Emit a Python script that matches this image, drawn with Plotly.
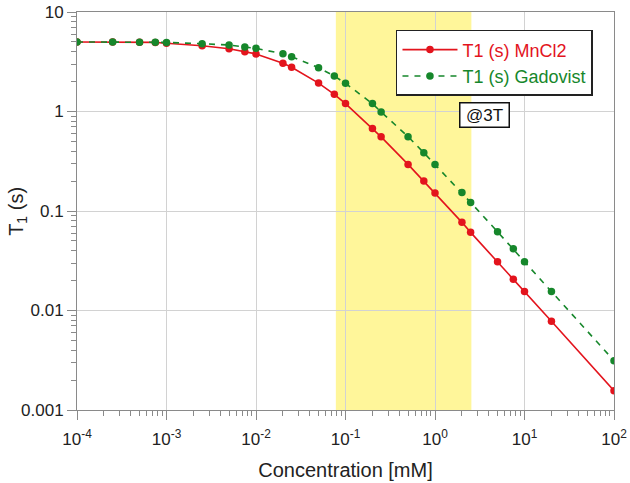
import plotly.graph_objects as go

# Data
conc_mM = [1e-4, 2.5e-4, 5e-4, 7.5e-4, 1e-3, 2.5e-3, 5e-3, 7.5e-3, 1e-2, 2e-2, 2.5e-2,
           5e-2, 7.5e-2, 0.1, 0.2, 0.25, 0.5, 0.75, 1, 2, 2.5, 5, 7.5, 10, 20, 100]
t1_mncl2 = [5.0, 5.0, 4.98, 4.95, 4.85, 4.58, 4.28, 3.99, 3.79, 3.05, 2.78,
            1.93, 1.49, 1.20, 0.675, 0.556, 0.294, 0.200, 0.152, 0.0769, 0.061,
            0.0309, 0.0206, 0.0155, 0.0078, 0.00156]
t1_gadovist = [5.0, 5.0, 4.98, 4.98, 4.95, 4.8, 4.66, 4.45, 4.31, 3.81, 3.56,
               2.75, 2.27, 1.92, 1.2, 0.99, 0.559, 0.385, 0.294, 0.153, 0.122,
               0.0618, 0.0418, 0.0309, 0.0155, 0.00313]
band_range = [0.078, 2.55]

x_tickvals = [1e-4, 1e-3, 1e-2, 1e-1, 1e0, 1e1, 1e2]
x_ticktext = ["10<sup>-4</sup>", "10<sup>-3</sup>", "10<sup>-2</sup>", "10<sup>-1</sup>",
              "10<sup>0</sup>", "10<sup>1</sup>", "10<sup>2</sup>"]
y_tickvals = [0.001, 0.01, 0.1, 1, 10]
y_ticktext = ["0.001", "0.01", "0.1", "1", "10"]

RED = "#e3141d"
GREEN = "#16872b"
FONT = "Liberation Sans, Arial, sans-serif"

def minor_vals(lo, hi):
    vals = []
    for e in range(lo, hi):
        for m in range(2, 10):
            vals.append(m * 10 ** e)
    return vals

fig = go.Figure()
fig.add_trace(go.Scatter(
    x=conc_mM, y=t1_mncl2, mode="lines+markers",
    name=f"<span style='color:{RED}'>T1 (s) MnCl2</span>",
    line=dict(color=RED, width=1.6),
    marker=dict(color=RED, size=7.5),
))
fig.add_trace(go.Scatter(
    x=conc_mM, y=t1_gadovist, mode="lines+markers",
    name=f"<span style='color:{GREEN}'>T1 (s) Gadovist</span>",
    line=dict(color=GREEN, width=1.6, dash="6px,6px"),
    marker=dict(color=GREEN, size=7.5),
))

fig.add_shape(type="rect", xref="x", yref="paper",
              x0=band_range[0], x1=band_range[1], y0=0, y1=1,
              fillcolor="#fff69a", line_width=0, layer="below")

fig.add_annotation(text="@3T", xref="paper", yref="paper", x=0.758, y=0.741,
                   xanchor="center", yanchor="middle",
                   showarrow=False, font=dict(size=17, color="#111", family=FONT),
                   width=46, height=21,
                   bgcolor="white", bordercolor="#111", borderwidth=1.5, borderpad=1)

# y-axis title placed as rotated text
fig.add_annotation(text="T<sub>1</sub> (s)", xref="paper", yref="paper",
                   x=-0.112, y=0.5, xanchor="center", yanchor="middle",
                   textangle=-90, showarrow=False,
                   font=dict(size=20, color="#222", family=FONT))

axis_common = dict(
    showline=True, linecolor="#8a8a8a", linewidth=1, mirror=True,
    showgrid=True, gridcolor="#d2d2d2", gridwidth=1,
    ticks="outside", ticklen=9, tickcolor="#8a8a8a", tickwidth=1,
    tickfont=dict(size=17, color="#222", family=FONT),
    zeroline=False, automargin=False,
)

fig.update_xaxes(
    type="log", range=[-4, 2], tickmode="array",
    tickvals=x_tickvals, ticktext=x_ticktext, ticklabelstandoff=5,
    minor=dict(tickmode="array", tickvals=minor_vals(-4, 2), ticks="outside",
               ticklen=5, tickcolor="#8a8a8a", showgrid=False),
    title=dict(text="Concentration [mM]", font=dict(size=20, color="#222", family=FONT),
               standoff=14),
    **axis_common,
)
fig.update_yaxes(
    type="log", range=[-3, 1], tickmode="array",
    tickvals=y_tickvals, ticktext=y_ticktext,
    minor=dict(tickmode="array", tickvals=minor_vals(-3, 1), ticks="outside",
               ticklen=5, tickcolor="#8a8a8a", showgrid=False),
    **axis_common,
)

fig.update_layout(
    width=630, height=483,
    margin=dict(l=77, r=16, t=12, b=73, autoexpand=False),
    paper_bgcolor="white", plot_bgcolor="white",
    font=dict(family=FONT, color="#222"),
    legend=dict(x=0.594, y=0.955, xanchor="left", yanchor="top",
                bgcolor="white", bordercolor="#222", borderwidth=1.5,
                font=dict(size=18, family=FONT), tracegroupgap=0,
                itemwidth=55),
    showlegend=True,
)

fig.write_html("out.html", config={"displayModeBar": False},
               post_script="document.body.style.margin='0';document.body.style.padding='0';")
